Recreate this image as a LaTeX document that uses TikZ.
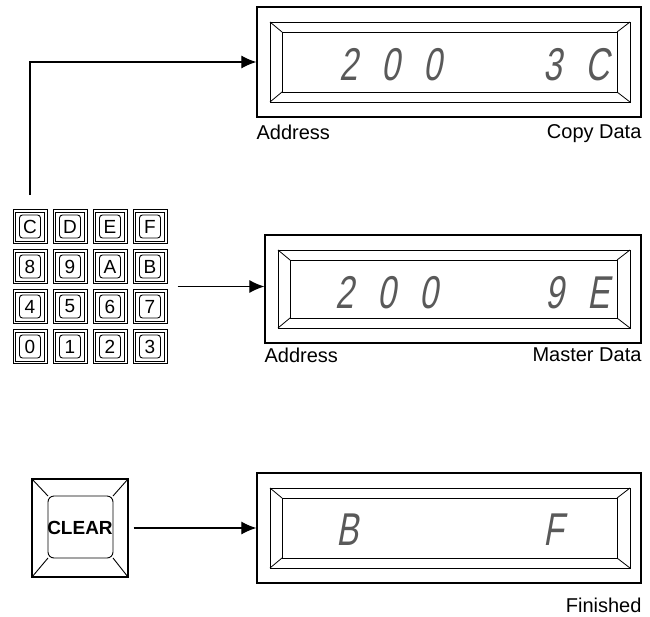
\documentclass[tikz,border=0pt]{standalone}
\usepackage{fontspec}
\setmainfont{Liberation Sans}
\newfontfamily\lcdfont[FakeSlant=0.18,FakeStretch=0.72,LetterSpace=52]{Liberation Sans}
\usetikzlibrary{arrows.meta,calc,fit}

\tikzset{
  arr/.style={-{Latex[length=15pt,width=13pt]},line width=1.2pt},
  lbl/.style={inner sep=0pt,font=\fontsize{20}{22}\selectfont},
  lcdtxt/.style={inner sep=0pt,text=black!65,font=\lcdfont\fontsize{46}{46}\selectfont},
  lcd/.style={draw,line width=1.3pt,minimum width=384pt,minimum height=110pt,inner sep=0pt,
    path picture={
      \coordinate (bzA) at ([shift={(13pt,-15pt)}]path picture bounding box.north west);
      \coordinate (bzB) at ([shift={(-11pt,15pt)}]path picture bounding box.south east);
      \coordinate (wnA) at ([shift={(25pt,-25pt)}]path picture bounding box.north west);
      \coordinate (wnB) at ([shift={(-24pt,25pt)}]path picture bounding box.south east);
      \draw[line width=.8pt] (bzA) rectangle (bzB) (wnA) rectangle (wnB);
      \draw[line width=.8pt] (bzA) -- (wnA) (bzA -| bzB) -- (wnA -| wnB)
        (bzB) -- (wnB) (bzB -| bzA) -- (wnB -| wnA);
    }},
  keycap/.style={draw,line width=.9pt,minimum width=34pt,minimum height=34pt,inner sep=0pt,
    font=\fontsize{19}{19}\selectfont,
    path picture={
      \draw[line width=.7pt]
        ([shift={(2.6pt,-2.6pt)}]path picture bounding box.north west) rectangle
        ([shift={(-2.6pt,2.6pt)}]path picture bounding box.south east);
      \draw[line width=.9pt,rounded corners=3pt]
        ([shift={(6.5pt,-5.5pt)}]path picture bounding box.north west) rectangle
        ([shift={(-6.5pt,5.5pt)}]path picture bounding box.south east);
    }},
  clearkey/.style={draw,line width=1.3pt,minimum width=96pt,minimum height=98pt,inner sep=0pt,
    font=\bfseries\fontsize{19}{19}\selectfont,
    path picture={
      \coordinate (fcA) at ([shift={(16pt,-17pt)}]path picture bounding box.north west);
      \coordinate (fcB) at ([shift={(-15pt,19pt)}]path picture bounding box.south east);
      \draw[line width=.9pt,rounded corners=6pt] (fcA) rectangle (fcB);
      \draw[line width=.9pt]
        (path picture bounding box.north west) -- (fcA)
        (path picture bounding box.north east) -- (fcA -| fcB)
        (path picture bounding box.south east) -- (fcB)
        (path picture bounding box.south west) -- (fcB -| fcA);
    }}
}

\begin{document}
\begin{tikzpicture}[x=1pt,y=-1pt]
\useasboundingbox (0,0) rectangle (650,616);

\node[lcd] (disp1) at (449,62) {};
\node[lcd,minimum width=376pt,minimum height=108pt] (disp2) at (453,289) {};
\node[lcd] (disp3) at (449,528) {};

\node[lcdtxt,anchor=base west] (adr1) at (339,80) {200};
\node[lcdtxt,anchor=base west] (dat1) at (543,80) {3C};
\node[lcdtxt,anchor=base west] (adr2) at (335,308) {200};
\node[lcdtxt,anchor=base west] (dat2) at (545,308) {9E};
\node[lcdtxt,anchor=base west] (adr3) at (336,545) {B};
\node[lcdtxt,anchor=base west] (dat3) at (543,545) {F};

\node[lbl,anchor=north west] (cap1a) at ([yshift=-7pt]disp1.south west) {Address};
\node[lbl,anchor=north east] (cap1b) at ([yshift=-7pt]disp1.south east) {Copy Data};
\node[lbl,anchor=north west] (cap2a) at ([yshift=-4pt]disp2.south west) {Address};
\node[lbl,anchor=north east] (cap2b) at ([yshift=-4pt]disp2.south east) {Master Data};
\node[lbl,anchor=north east] (cap3b) at ([yshift=-14pt]disp3.south east) {Finished};

\foreach \lab [count=\i from 0] in {C,D,E,F,8,9,A,B,4,5,6,7,0,1,2,3}
  \node[keycap] (key-\lab) at ({30+40*mod(\i,4)},{226.5+40*div(\i,4)}) {\lab};
\node[fit=(key-C)(key-3),inner sep=0pt] (keypad) {};

\node[clearkey] (clear) at (80,528) {CLEAR};

\draw[arr] ([yshift=14pt]key-C.north) |- (disp1.west);
\draw[arr] ([xshift=10pt]keypad.east) -- (keypad.east -| disp2.west);
\draw[arr] ([xshift=5pt]clear.east) -- (clear.east -| disp3.west);
\end{tikzpicture}
\end{document}
